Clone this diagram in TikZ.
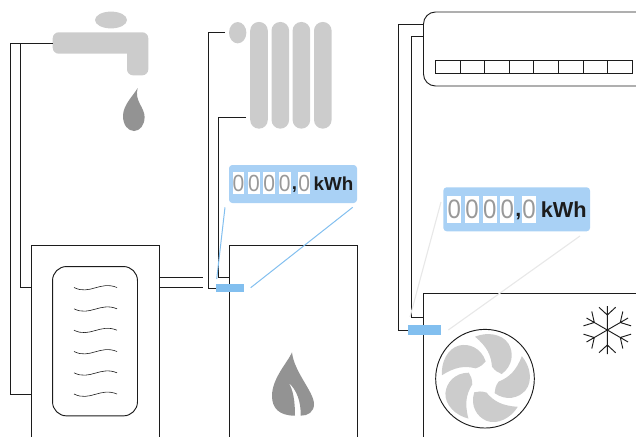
\documentclass[tikz,border=0pt]{standalone}
\usepackage{fontspec}
\usetikzlibrary{shapes.geometric}
\setmainfont{Liberation Sans}
\newfontfamily\digitfont[FakeStretch=0.9]{Liberation Sans}
\definecolor{partgray}{HTML}{CCCCCC}
\definecolor{dropgray}{HTML}{939393}
\definecolor{digitgray}{HTML}{999999}
\definecolor{panelblue}{HTML}{A9D1F5}
\definecolor{meterblue}{HTML}{82BFEF}
\definecolor{leadgray}{HTML}{E8E8E8}
\definecolor{inkdark}{HTML}{1C1C1C}
\tikzset{
  pipe/.style={draw=inkdark, line width=0.7pt},
  box/.style={draw=inkdark, line width=0.7pt, inner sep=0pt},
  part/.style={fill=partgray, inner sep=0pt},
  meter/.style={fill=meterblue, inner sep=0pt},
  panel/.style={fill=panelblue, rounded corners=2.5pt, inner sep=0pt},
  digit/.style={fill=white, text=digitgray, inner sep=0pt},
  unit/.style={text=inkdark, inner sep=0pt, font=\bfseries},
  bluelead/.style={draw=meterblue, line width=0.75pt},
  graylead/.style={draw=leadgray, line width=0.85pt},
  wave/.style={draw=inkdark, line width=0.45pt},
}
\begin{document}
\begin{tikzpicture}[x=0.75pt,y=-0.75pt]
\clip (0,0) rectangle (636,436);
% tap
\node[part, ellipse, minimum width=24pt, minimum height=12.6pt] (tapknob) at (111,20) {};
\fill[partgray, rounded corners=4.5pt] (52.7,32.3) -- (148.3,32.3) -- (148.3,75.3) -- (127,75.3) [sharp corners] -- (127,53.7) [rounded corners=4.5pt] -- (52.7,53.7) -- cycle;
\fill[dropgray] (137.7,88) .. controls (133,96) and (123,105) .. (123,116) .. controls (123,125) and (128,131) .. (134,131) .. controls (140,131) and (144.6,125) .. (144.6,117) .. controls (144.6,107) and (134,101) .. (137.7,88) -- cycle;
% radiator
\node[part, ellipse, minimum width=13pt, minimum height=16pt] (radcap) at (237.7,32.7) {};
\foreach \x/\n in {259/a,280.3/b,301.4/c,322.8/d}
  \node[part, rounded corners=6.5pt, minimum width=13.2pt, minimum height=80pt] (rad\n) at (\x,75.3) {};
% tank
\node[box, minimum width=96pt, minimum height=165pt] (tank) at (95,355) {};
\node[box, rounded corners=10.5pt, minimum width=63.7pt, minimum height=112pt] (coil) at (95,341.2) {};
\foreach \y in {287.5,308.8,330.2,351.5,372.8,394}
  \draw[wave] (74,\y) .. controls (90,\y+8) and (100,\y-7) .. (117,\y);
% gas boiler
\node[box, minimum width=96pt, minimum height=165pt] (boiler) at (293,355) {};
\fill[dropgray] (292,352.3) .. controls (288,362) and (272,378) .. (272,396) .. controls (272,408) and (279,415.7) .. (295,415.7) .. controls (295,402) and (293.5,390) .. (288.3,382.3) .. controls (297,390) and (301,402) .. (300.7,415.7) .. controls (308,415.7) and (314,412) .. (314,404) .. controls (314,392) and (294,372) .. (292,352.3) -- cycle;
% heat pump
\node[box, minimum width=180pt, minimum height=150pt] (outdoor) at (543.3,393.3) {};
\node[box, circle, minimum size=74pt] (fan) at (485,378.7) {};
\foreach \a in {0,72,...,288}
  \fill[partgray, shift={(fan.center)}, rotate=\a] (-10,-42) .. controls (2,-47) and (17,-45) .. (23.5,-35) .. controls (29,-26) and (28,-13) .. (16.7,-4.7) .. controls (13,-6) and (10,-8) .. (7,-12) .. controls (6,-24) and (2,-32) .. (-10,-42) -- cycle;
% snowflake
\coordinate (flake) at (607.3,330);
\foreach \a in {0,60,...,300}
  \draw[pipe, shift={(flake)}, rotate=\a] (0,0) -- (0,-24) (-8.3,-22.7) -- (0,-15) -- (8.3,-22.7);
% air conditioner
\node[box, rounded corners=9pt, minimum width=177pt, minimum height=55.5pt] (split) at (541.5,49) {};
\foreach \i in {0,...,7}
  \node[box, minimum width=18.4pt, minimum height=9.3pt] (vent\i) at (448+\i*24.54,67) {};
% pipes
\coordinate (tapA) at (52.7,43);
\coordinate (tankA) at (31,394);
\coordinate (tankB) at (31,287.7);
\coordinate (tankC) at (159,277.3);
\coordinate (tankD) at (159,287.7);
\coordinate (feedC) at (203,277.3);
\coordinate (feedD) at (203,287.7);
\coordinate (radA) at (225,32.7);
\coordinate (radB) at (246,117.7);
\coordinate (boilerA) at (229,277.3);
\coordinate (splitA) at (423.5,24);
\coordinate (splitB) at (423.5,36.7);
\coordinate (outdoorA) at (423.5,317.3);
\draw[pipe] (tapA) -- ++(-42.7,0) |- (tankA);
\draw[pipe] (tapA) -- ++(-32,0) |- (tankB);
\draw[pipe] (tankC) -- (feedC);
\draw[pipe] (tankD) -- (feedD);
\node[meter, minimum width=21.4pt, minimum height=6pt] (meterA) at (230.2,288) {};
\node[meter, minimum width=24.8pt, minimum height=7.5pt] (meterB) at (424.5,330) {};
\draw[pipe] (radA) -- ++(-17,0) |- (meterA.west);
\draw[pipe] (radB) -- ++(-27.7,0) |- (boilerA);
\draw[pipe] (splitA) -- ++(-24.8,0) |- (meterB.west);
\draw[pipe] (splitB) -- ++(-12.2,0) |- (outdoorA);
% meter readouts
\node[panel, minimum width=96pt, minimum height=28.5pt] (panelA) at (293,184) {};
\foreach \x/\n in {238.5/a,254/b,269.3/c,284.8/d,304.2/e}
  \node[digit, minimum width=8.9pt, minimum height=16.8pt, font=\digitfont\fontsize{17.5}{17.5}\selectfont] (digitA\n) at (\x,183) {0};
\node[unit, font=\bfseries\fontsize{14}{14}\selectfont] (commaA) at (294.5,190) {,};
\node[unit, font=\bfseries\fontsize{14.1}{14.1}\selectfont] (unitA) at (333.5,184) {kWh};
\node[panel, minimum width=110pt, minimum height=33pt] (panelB) at (516.7,209.3) {};
\foreach \x/\n in {454.2/a,472/b,489.9/c,507.2/d,529/e}
  \node[digit, minimum width=10.3pt, minimum height=20.4pt, font=\digitfont\fontsize{20}{20}\selectfont] (digitB\n) at (\x,209.7) {0};
\node[unit, font=\bfseries\fontsize{16}{16}\selectfont] (commaB) at (518.3,217) {,};
\node[unit, font=\bfseries\fontsize{16.3}{16.3}\selectfont] (unitB) at (563.7,209.3) {kWh};
% leads
\coordinate (leadA) at (225,207.3);
\coordinate (leadB) at (216.7,279);
\coordinate (leadC) at (352.7,207.3);
\coordinate (leadD) at (250.7,287.7);
\coordinate (leadE) at (441,202);
\coordinate (leadF) at (410,317);
\coordinate (leadG) at (580,236);
\coordinate (leadH) at (448.3,330);
\draw[bluelead] (leadA) -- (leadB);
\draw[bluelead] (leadC) -- (leadD);
\draw[graylead] (leadE) -- (leadF);
\draw[graylead] (leadG) -- (leadH);
\end{tikzpicture}
\end{document}
